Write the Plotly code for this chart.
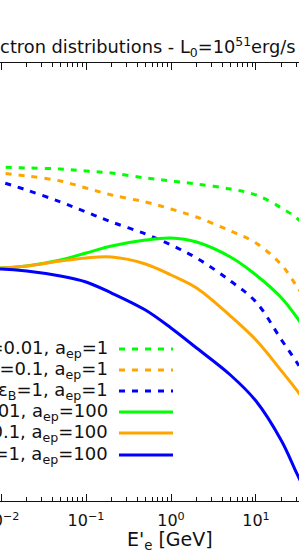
import plotly.graph_objects as go

# Electron energy E'_e [GeV]
energy = [0.008, 0.01, 0.02, 0.05, 0.1, 0.2, 0.5, 1, 2, 5, 10, 20, 30, 40]

# log10 of the distribution (arbitrary normalisation; y axis not visible in the crop)
dash_eB001 = [48.575, 48.575, 48.562, 48.548, 48.521, 48.493, 48.425, 48.384, 48.342, 48.274, 48.192, 48.014, 47.877, 47.740]
dash_eB01 = [48.507, 48.493, 48.452, 48.384, 48.288, 48.192, 48.096, 48.000, 47.890, 47.699, 47.534, 47.233, 46.945, 46.726]
dash_eB1 = [48.397, 48.370, 48.260, 48.096, 47.959, 47.822, 47.658, 47.507, 47.329, 47.014, 46.726, 46.205, 45.904, 45.658]
solid_eB001 = [47.192, 47.192, 47.219, 47.301, 47.397, 47.493, 47.575, 47.603, 47.548, 47.342, 47.096, 46.781, 46.521, 46.301]
solid_eB01 = [47.192, 47.192, 47.219, 47.288, 47.329, 47.342, 47.247, 47.096, 46.918, 46.534, 46.205, 45.781, 45.521, 45.315]
solid_eB1 = [47.178, 47.178, 47.151, 47.082, 47.000, 46.849, 46.616, 46.370, 46.096, 45.726, 45.370, 44.822, 44.384, 44.082]

labels = [
    "ε<sub>B</sub>=0.01, a<sub>ep</sub>=1",
    "ε<sub>B</sub>=0.1, a<sub>ep</sub>=1",
    "ε<sub>B</sub>=1, a<sub>ep</sub>=1",
    "ε<sub>B</sub>=0.01, a<sub>ep</sub>=100",
    "ε<sub>B</sub>=0.1, a<sub>ep</sub>=100",
    "ε<sub>B</sub>=1, a<sub>ep</sub>=100",
]
series = [dash_eB001, dash_eB01, dash_eB1, solid_eB001, solid_eB01, solid_eB1]
colors = ["#00ff00", "#ffa500", "#0000ff", "#00ff00", "#ffa500", "#0000ff"]
dashes = ["6px,7px", "6px,7px", "6px,7px", "solid", "solid", "solid"]

tick_vals = [0.01, 0.1, 1, 10]
tick_text = ["10<sup>−2</sup>", "10<sup>−1</sup>", "10<sup>0</sup>", "10<sup>1</sup>"]
title_text = "Electron distributions - L<sub>0</sub>=10<sup>51</sup>erg/s"
xlabel = "E'<sub>e</sub> [GeV]"

W, H = 299, 554
T, B = 63, 53
plot_h = H - T - B

def py(p):
    return (H - B - p) / plot_h

FONT = "DejaVu Sans"
fig = go.Figure()
for ys, c, d, name in zip(series, colors, dashes, labels):
    fig.add_trace(go.Scatter(x=energy, y=ys, mode="lines", name=name,
                             line=dict(color=c, width=3, dash=d, shape="spline", smoothing=1.0),
                             showlegend=False))

minor_vals = []
for dec in [0.001, 0.01, 0.1, 1, 10, 100]:
    for k in range(2, 10):
        minor_vals.append(dec * k)

fig.update_xaxes(type="log", range=[-2.012, 1.506], automargin=False, showline=True,
                 linecolor="#111", linewidth=1.4, mirror="ticks", ticks="inside", ticklen=7,
                 tickwidth=1.3, tickcolor="#111", tickvals=tick_vals, ticktext=tick_text,
                 tickfont=dict(family=FONT, size=16, color="#111"), showgrid=False, zeroline=False,
                 ticklabeloverflow="allow", ticklabelstandoff=5,
                 minor=dict(tickvals=minor_vals, ticks="inside", ticklen=4, tickwidth=1.1,
                            tickcolor="#111", showgrid=False))
fig.update_yaxes(range=[44, 50], automargin=False, showline=False, showticklabels=False,
                 ticks="", showgrid=False, zeroline=False)

annotations = [
    dict(text=title_text, xref="paper", yref="paper", x=298 / W, y=py(47),
         xanchor="right", yanchor="middle", showarrow=False,
         font=dict(family=FONT, size=17.8, color="#111")),
    dict(text=xlabel, xref="paper", yref="paper", x=170 / W, y=py(540),
         xanchor="center", yanchor="middle", showarrow=False,
         font=dict(family=FONT, size=19, color="#111")),
]
shapes = []
rows = [349, 370, 391, 412, 433, 455]
for r, name, c, d in zip(rows, labels, colors, dashes):
    annotations.append(dict(text=name, xref="paper", yref="paper", x=110 / W, y=py(r),
                            xanchor="right", yanchor="middle", showarrow=False,
                            font=dict(family=FONT, size=18, color="#111")))
    shapes.append(dict(type="line", xref="paper", yref="paper", x0=119 / W, x1=173 / W,
                       y0=py(r), y1=py(r), line=dict(color=c, width=3, dash=d)))

fig.update_layout(width=W, height=H, margin=dict(l=0, r=0, t=T, b=B, pad=0, autoexpand=False),
                  plot_bgcolor="white", paper_bgcolor="white",
                  annotations=annotations, shapes=shapes,
                  font=dict(family=FONT, size=16, color="#111"))

fig.write_html("out.html", config={"displayModeBar": False},
               post_script="document.body.style.margin='0';document.body.style.padding='0';")
